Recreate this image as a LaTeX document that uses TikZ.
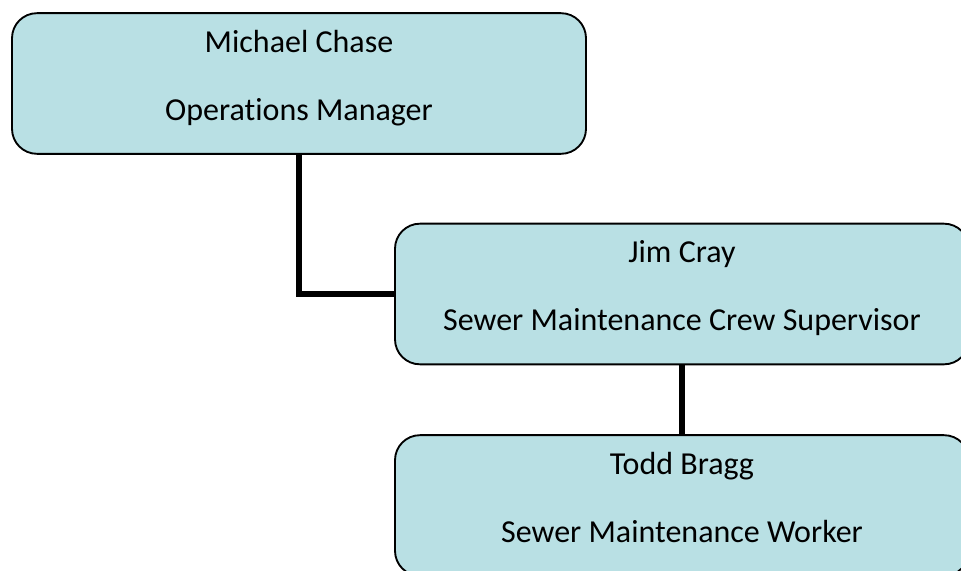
\documentclass[tikz,border=0pt]{standalone}
\usepackage{fontspec}
\setmainfont{Carlito}[Ligatures=NoCommon]
\definecolor{boxfill}{RGB}{185,224,228}
\tikzset{
  staffbox/.style={draw=black,line width=1.4pt,fill=boxfill,rounded corners=18.75pt,minimum width=430.5pt,minimum height=105.5pt,inner sep=0pt},
  staffline/.style={anchor=base,inner sep=0pt,font=\fontsize{24pt}{29pt}\selectfont},
  link/.style={line width=4.5pt}
}
\begin{document}
\begin{tikzpicture}[x=0.75pt,y=-0.75pt]
\useasboundingbox(0,0)rectangle(961,571);
\clip(0,0)rectangle(961,571);
\foreach \n/\x/\y/\a/\b in {mc/299/83.5/Michael Chase/Operations Manager,jc/682/294/Jim Cray/Sewer Maintenance Crew Supervisor,tb/682/505.5/Todd Bragg/Sewer Maintenance Worker}{
\node[staffbox](\n)at(\x,\y){};
\node[staffline](\n name)at(\x,\y-31.5){\a};
\node[staffline](\n role)at(\x,\y+36.5){\b};}
\draw[link](mc.south)|-(jc.west);
\draw[link](jc.south)--(tb.north);
\end{tikzpicture}
\end{document}
